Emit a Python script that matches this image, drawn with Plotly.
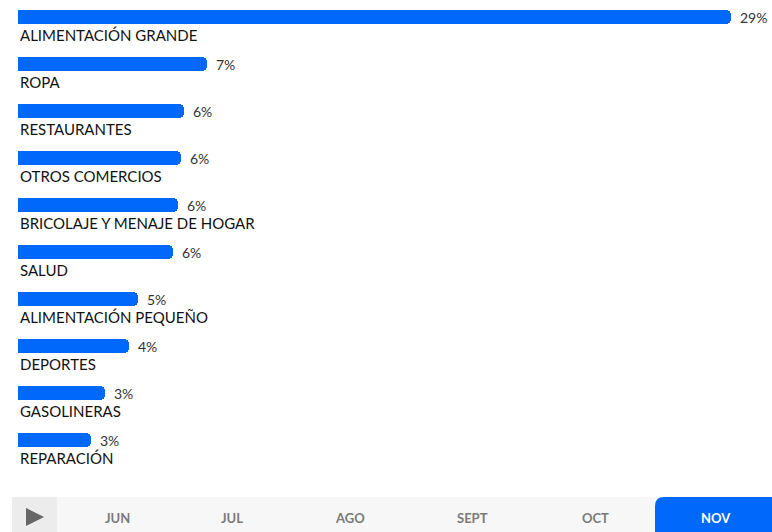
import plotly.graph_objects as go

categories = ["ALIMENTACIÓN GRANDE", "ROPA", "RESTAURANTES", "OTROS COMERCIOS",
              "BRICOLAJE Y MENAJE DE HOGAR", "SALUD", "ALIMENTACIÓN PEQUEÑO",
              "DEPORTES", "GASOLINERAS", "REPARACIÓN"]
values = [29.0, 7.7, 6.75, 6.62, 6.5, 6.3, 4.9, 4.5, 3.55, 2.95]
value_labels = ["29%", "7%", "6%", "6%", "6%", "6%", "5%", "4%", "3%", "3%"]
months = ["JUN", "JUL", "AGO", "SEPT", "OCT", "NOV"]
active_month = "NOV"

W, H = 772, 532
BLUE = "#0068FA"
FONT = "Lato"

# window pixel -> paper coords
def px(x):
    return x / W

def py(y):
    return 1 - y / H

x_left, x_px_per_unit = 18, 713 / 29.0
x_range_max = 30.0
x_domain_start = px(x_left)
x_domain_end = px(x_left + x_range_max * x_px_per_unit)

row0, row_step = 17, 47
top_px, bottom_px = 0, 478
y_top_val = (top_px - row0) / row_step
y_bot_val = (bottom_px - row0) / row_step

fig = go.Figure()
fig.add_trace(go.Bar(
    x=values, y=categories, orientation="h",
    marker=dict(color=BLUE, cornerradius=5, line=dict(width=0)),
    width=0.3, hoverinfo="skip",
))

annotations = []
for c, v, t in zip(categories, values, value_labels):
    annotations.append(dict(x=v, y=c, xref="x", yref="y", text=t, showarrow=False,
                            xanchor="left", yanchor="middle", xshift=7,
                            font=dict(family=FONT, size=14, color="#333333")))
    annotations.append(dict(x=0, y=c, xref="x", yref="y", text=c, showarrow=False,
                            xanchor="left", yanchor="middle", yshift=-18,
                            font=dict(family=FONT, size=15, color="#111111")))

# timeline
band_top, band_bot = 497, 532
shapes = [
    dict(type="rect", xref="paper", yref="paper", x0=px(12), x1=px(772),
         y0=py(band_bot), y1=py(band_top), fillcolor="#f7f7f7", line=dict(width=0), layer="below"),
    dict(type="rect", xref="paper", yref="paper", x0=px(12), x1=px(57),
         y0=py(band_bot), y1=py(band_top), fillcolor="#ececec", line=dict(width=0), layer="below"),
    dict(type="path", xref="paper", yref="paper",
         path=f"M {px(26)},{py(508)} L {px(44)},{py(517)} L {px(26)},{py(526)} Z",
         fillcolor="#666666", line=dict(width=0)),
]
month_x = [117, 232, 350, 473, 595, 716]
r = 9
x0b, x1b, y0b, y1b = 655, 772, band_bot, band_top
shapes.append(dict(
    type="path", xref="paper", yref="paper",
    path=(f"M {px(x0b)},{py(y0b)} L {px(x0b)},{py(y1b + r)} "
          f"Q {px(x0b)},{py(y1b)} {px(x0b + r)},{py(y1b)} "
          f"L {px(x1b)},{py(y1b)} L {px(x1b)},{py(y0b)} Z"),
    fillcolor=BLUE, line=dict(width=0)))
for m, mx in zip(months, month_x):
    active = m == active_month
    annotations.append(dict(x=px(mx), y=py(518), xref="paper", yref="paper", text=m,
                            showarrow=False, xanchor="center", yanchor="middle",
                            font=dict(family=FONT, size=13, weight="bold",
                                      color="#ffffff" if active else "#7a7a7a")))

fig.update_layout(
    width=W, height=H, margin=dict(l=0, r=0, t=0, b=0),
    paper_bgcolor="white", plot_bgcolor="white", showlegend=False,
    xaxis=dict(range=[0, x_range_max], domain=[x_domain_start, x_domain_end],
               showgrid=False, zeroline=False, showticklabels=False, fixedrange=True),
    yaxis=dict(range=[y_bot_val, y_top_val], domain=[py(bottom_px), 1],
               showgrid=False, zeroline=False, showticklabels=False, fixedrange=True),
    annotations=annotations, shapes=shapes, bargap=0,
    font=dict(family=FONT),
)
fig.write_html(
    "out.html",
    config={"displayModeBar": False},
    post_script="document.body.style.margin='0';document.body.style.overflow='hidden';",
)
